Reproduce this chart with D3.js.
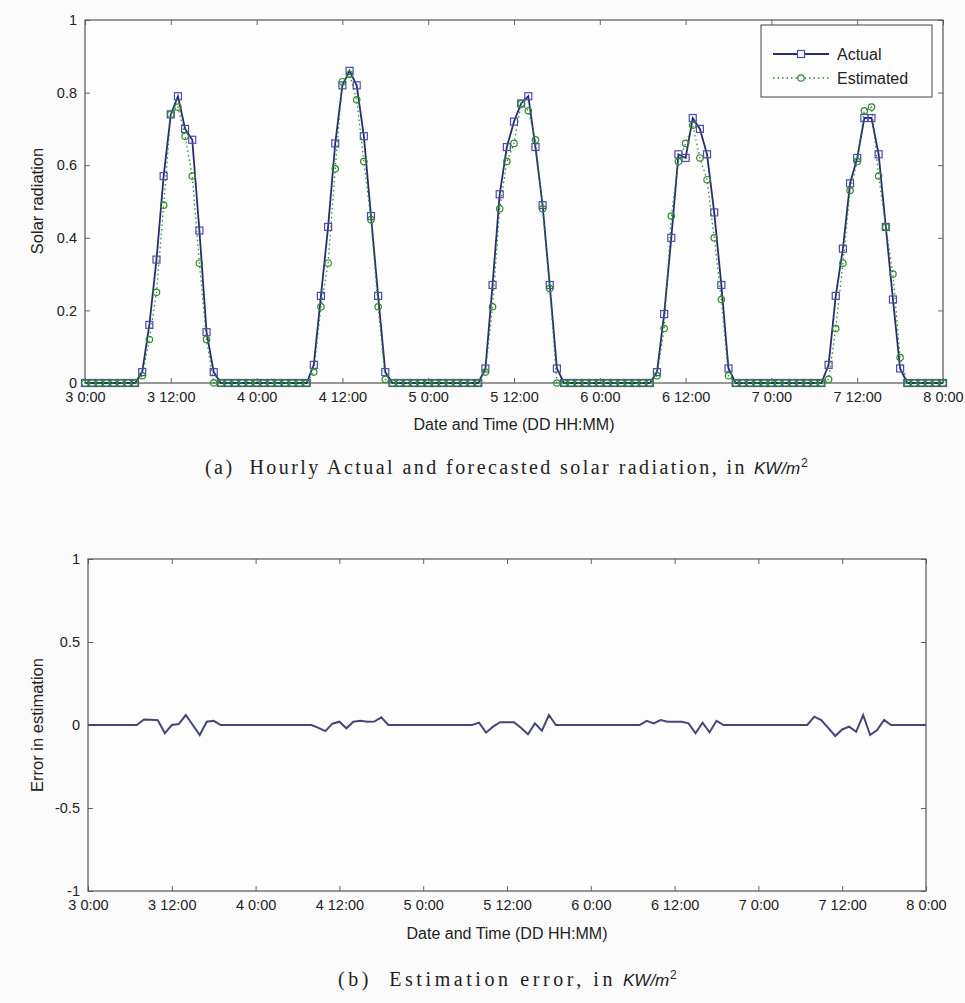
<!DOCTYPE html>
<html><head><meta charset="utf-8">
<script src="https://cdn.jsdelivr.net/npm/d3@7"></script>
<style>
body{margin:0;background:#fbfbfb;}
svg{display:block;}
.tick text{font-family:"Liberation Sans",Arial,sans-serif;font-size:14.5px;fill:#222;}
.tick line{stroke:#666;}
</style></head><body>
<svg id="c" width="965" height="1003"></svg>
<script>
// hourly samples, hour 0 = "3 0:00" ... hour 120 = "8 0:00"
const xTickValues = [0,12,24,36,48,60,72,84,96,108,120];
const xTickLabels = ["3 0:00","3 12:00","4 0:00","4 12:00","5 0:00","5 12:00","6 0:00","6 12:00","7 0:00","7 12:00","8 0:00"];
const yTopTicks = [0,0.2,0.4,0.6,0.8,1];
const yTopLabels = ["0","0.2","0.4","0.6","0.8","1"];
const yBotTicks = [-1,-0.5,0,0.5,1];
const yBotLabels = ["-1","-0.5","0","0.5","1"];

const actual = [
0,0,0,0,0,0,0,0,0.03,0.16,0.34,0.57,
0.74,0.79,0.70,0.67,0.42,0.14,0.03,0,0,0,0,0,
0,0,0,0,0,0,0,0,0.05,0.24,0.43,0.66,
0.82,0.86,0.82,0.68,0.46,0.24,0.03,0,0,0,0,0,
0,0,0,0,0,0,0,0,0.04,0.27,0.52,0.65,
0.72,0.77,0.79,0.65,0.49,0.27,0.04,0,0,0,0,0,
0,0,0,0,0,0,0,0,0.03,0.19,0.40,0.63,
0.62,0.73,0.70,0.63,0.47,0.27,0.04,0,0,0,0,0,
0,0,0,0,0,0,0,0,0.05,0.24,0.37,0.55,
0.62,0.73,0.73,0.63,0.43,0.23,0.04,0,0,0,0,0,
0];
const estimated = [
0,0,0,0,0,0,0,0,0.02,0.12,0.25,0.49,
0.74,0.76,0.68,0.57,0.33,0.12,0,0,0,0,0,0,
0,0,0,0,0,0,0,0,0.03,0.21,0.33,0.59,
0.83,0.85,0.78,0.61,0.45,0.21,0.01,0,0,0,0,0,
0,0,0,0,0,0,0,0,0.03,0.21,0.48,0.61,
0.66,0.77,0.75,0.67,0.48,0.26,0,0,0,0,0,0,
0,0,0,0,0,0,0,0,0.02,0.15,0.46,0.61,
0.66,0.71,0.62,0.56,0.40,0.23,0.02,0,0,0,0,0,
0,0,0,0,0,0,0,0,0.01,0.15,0.33,0.53,
0.61,0.75,0.76,0.57,0.43,0.30,0.07,0,0,0,0,0,
0];
const errorEst = [
0,0,0,0,0,0,0,0,0.033,0.031,0.029,-0.05,
0,0.006,0.06,0,-0.06,0.02,0.025,0,0,0,0,0,
0,0,0,0,0,0,0,0,0,-0.017,-0.037,0.008,
0.02,-0.02,0.02,0.025,0.02,0.021,0.046,0,0,0,0,0,
0,0,0,0,0,0,0,0,0.014,-0.046,-0.01,0.017,
0.017,0.017,-0.017,-0.056,0.01,-0.034,0.06,0,0,0,0,0,
0,0,0,0,0,0,0,0,0.025,0.01,0.03,0.02,
0.02,0.02,0.01,-0.05,0.014,-0.044,0.025,0,0,0,0,0,
0,0,0,0,0,0,0,0,0.05,0.03,-0.017,-0.066,
-0.027,-0.01,-0.041,0.06,-0.06,-0.03,0.03,0,0,0,0,0,
0];

const svg = d3.select("#c");
svg.append("rect").attr("width",965).attr("height",1003).attr("fill","#fbfbfb");

const sans = '"Liberation Sans",Arial,sans-serif';
const serif = '"Liberation Serif","DejaVu Serif",serif';

function frame(g, x, y, yt, yl){
  const [x0,x1] = x.range(); const [y0,y1] = y.range();
  g.append("rect").attr("x",x0).attr("y",y1).attr("width",x1-x0).attr("height",y0-y1)
    .attr("fill","#fdfdfd");
  const ax = g.append("g").attr("transform",`translate(0,${y0})`)
    .call(d3.axisBottom(x).tickValues(xTickValues).tickFormat((d,i)=>xTickLabels[i]).tickSizeInner(-5).tickSizeOuter(0).tickPadding(9));
  const at = g.append("g").attr("transform",`translate(0,${y1})`)
    .call(d3.axisTop(x).tickValues(xTickValues).tickFormat("").tickSizeInner(-5).tickSizeOuter(0));
  const al = g.append("g").attr("transform",`translate(${x0},0)`)
    .call(d3.axisLeft(y).tickValues(yt).tickFormat((d,i)=>yl[i]).tickSizeInner(-5).tickSizeOuter(0).tickPadding(8));
  const ar = g.append("g").attr("transform",`translate(${x1},0)`)
    .call(d3.axisRight(y).tickValues(yt).tickFormat("").tickSizeInner(-5).tickSizeOuter(0));
  [ax,at,al,ar].forEach(a=>a.select(".domain").remove());
  g.append("rect").attr("x",x0).attr("y",y1).attr("width",x1-x0).attr("height",y0-y1)
    .attr("fill","none").attr("stroke","#555").attr("stroke-width",1.2);
}

function caption(g, x, y, mainText, mainLen){
  g.append("text").attr("x",x).attr("y",y).attr("font-family",serif).attr("font-size",20)
    .attr("fill","#222").attr("xml:space","preserve")
    .attr("textLength",mainLen).attr("lengthAdjust","spacing").text(mainText);
  g.append("text").attr("x",x+mainLen+2).attr("y",y).attr("font-family",sans)
    .attr("font-style","italic").attr("font-size",17).attr("fill","#222").text("KW/m");
  g.append("text").attr("x",x+mainLen+49).attr("y",y-7).attr("font-family",sans)
    .attr("font-size",12).attr("fill","#222").text("2");
}

// ---------- top chart ----------
const xT = d3.scaleLinear().domain([0,120]).range([85,943]);
const yT = d3.scaleLinear().domain([0,1]).range([383,20]);
const gT = svg.append("g");
frame(gT, xT, yT, yTopTicks, yTopLabels);

const lineT = d3.line().x((d,i)=>xT(i)).y(d=>yT(d));
const actCol = "#2c2c6c", actMk = "#4b4bb0", estCol = "#2f8a2f";
gT.append("path").datum(actual).attr("d",lineT).attr("fill","none")
  .attr("stroke",actCol).attr("stroke-width",1.8);
gT.selectAll("rect.sq").data(actual).join("rect").attr("class","sq")
  .attr("x",(d,i)=>xT(i)-3.5).attr("y",d=>yT(d)-3.5).attr("width",7).attr("height",7)
  .attr("fill","none").attr("stroke",actMk).attr("stroke-width",1.2);
gT.append("path").datum(estimated).attr("d",lineT).attr("fill","none")
  .attr("stroke",estCol).attr("stroke-width",1.3).attr("stroke-dasharray","1.5,3");
gT.selectAll("circle.ci").data(estimated).join("circle").attr("class","ci")
  .attr("cx",(d,i)=>xT(i)).attr("cy",d=>yT(d)).attr("r",3.2)
  .attr("fill","none").attr("stroke",estCol).attr("stroke-width",1.2);

// legend
const lg = gT.append("g");
lg.append("rect").attr("x",761).attr("y",25).attr("width",171).attr("height",72)
  .attr("fill","#fdfdfd").attr("stroke","#444").attr("stroke-width",1);
lg.append("line").attr("x1",773).attr("x2",829).attr("y1",54).attr("y2",54)
  .attr("stroke",actCol).attr("stroke-width",1.8);
lg.append("rect").attr("x",797.5).attr("y",50.5).attr("width",7).attr("height",7)
  .attr("fill","#fdfdfd").attr("stroke",actMk).attr("stroke-width",1.2);
lg.append("line").attr("x1",773).attr("x2",829).attr("y1",78).attr("y2",78)
  .attr("stroke",estCol).attr("stroke-width",1.3).attr("stroke-dasharray","1.5,3");
lg.append("circle").attr("cx",801).attr("cy",78).attr("r",3.2)
  .attr("fill","#fdfdfd").attr("stroke",estCol).attr("stroke-width",1.2);
lg.append("text").attr("x",837).attr("y",60).text("Actual")
  .attr("font-family",sans).attr("font-size",16).attr("fill","#222");
lg.append("text").attr("x",837).attr("y",84).text("Estimated")
  .attr("font-family",sans).attr("font-size",16).attr("fill","#222");

gT.append("text").attr("x",514).attr("y",430).attr("text-anchor","middle")
  .attr("font-family",sans).attr("font-size",16).attr("fill","#222").text("Date and Time (DD HH:MM)");
gT.append("text").attr("transform","translate(43,201) rotate(-90)").attr("text-anchor","middle")
  .attr("font-family",sans).attr("font-size",16.5).attr("fill","#222").text("Solar radiation");
caption(gT, 205, 474, "(a)  Hourly Actual and forecasted solar radiation, in ", 547);

// ---------- bottom chart ----------
const xB = d3.scaleLinear().domain([0,120]).range([88,926]);
const yB = d3.scaleLinear().domain([-1,1]).range([891,559]);
const gB = svg.append("g");
frame(gB, xB, yB, yBotTicks, yBotLabels);
const lineB = d3.line().x((d,i)=>xB(i)).y(d=>yB(d));
gB.append("path").datum(errorEst).attr("d",lineB).attr("fill","none")
  .attr("stroke","#45457a").attr("stroke-width",2);

gB.append("text").attr("x",507).attr("y",939).attr("text-anchor","middle")
  .attr("font-family",sans).attr("font-size",16).attr("fill","#222").text("Date and Time (DD HH:MM)");
gB.append("text").attr("transform","translate(43,725) rotate(-90)").attr("text-anchor","middle")
  .attr("font-family",sans).attr("font-size",16.5).attr("fill","#222").text("Error in estimation");
caption(gB, 338, 986, "(b)  Estimation error, in ", 283);
</script>
</body></html>
